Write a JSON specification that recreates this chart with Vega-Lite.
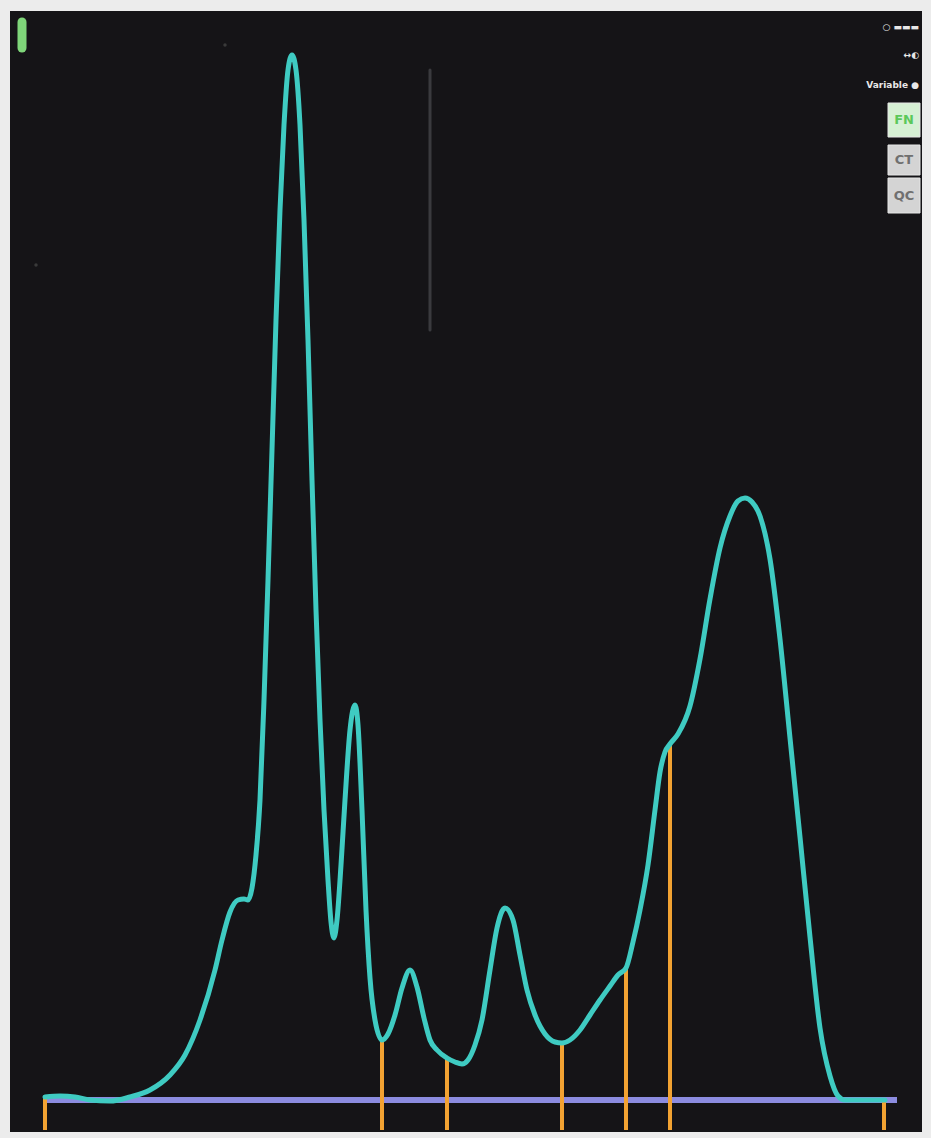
{
  "$schema": "https://vega.github.io/schema/vega-lite/v6.json",
  "autosize": {"type": "fit", "contains": "padding"},
  "width": 931,
  "height": 1138,
  "padding": {"left": 10, "top": 11, "right": 9, "bottom": 6},
  "background": "#ececec",
  "view": {"fill": "#151417", "stroke": null},
  "datasets": {
    "trace": [
      {"t": 45, "s": 3}, {"t": 60, "s": 4}, {"t": 75, "s": 3}, {"t": 90, "s": 0}, {"t": 110, "s": -1},
      {"t": 130, "s": 3}, {"t": 150, "s": 10}, {"t": 170, "s": 25}, {"t": 185, "s": 45}, {"t": 200, "s": 80},
      {"t": 215, "s": 130}, {"t": 222, "s": 160}, {"t": 230, "s": 188}, {"t": 238, "s": 200}, {"t": 244, "s": 201},
      {"t": 248, "s": 200}, {"t": 252, "s": 212}, {"t": 256, "s": 245}, {"t": 260, "s": 300}, {"t": 264, "s": 400},
      {"t": 268, "s": 520}, {"t": 272, "s": 650}, {"t": 276, "s": 780}, {"t": 280, "s": 890}, {"t": 284, "s": 975},
      {"t": 288, "s": 1030}, {"t": 292, "s": 1045}, {"t": 296, "s": 1030}, {"t": 300, "s": 975}, {"t": 304, "s": 880},
      {"t": 308, "s": 760}, {"t": 312, "s": 620}, {"t": 316, "s": 490}, {"t": 320, "s": 380}, {"t": 324, "s": 290},
      {"t": 328, "s": 220}, {"t": 331, "s": 178}, {"t": 334, "s": 162}, {"t": 337, "s": 180}, {"t": 341, "s": 235},
      {"t": 345, "s": 300}, {"t": 350, "s": 370}, {"t": 355, "s": 395}, {"t": 358, "s": 375}, {"t": 362, "s": 290},
      {"t": 366, "s": 190}, {"t": 370, "s": 122}, {"t": 375, "s": 80}, {"t": 382, "s": 60}, {"t": 388, "s": 66},
      {"t": 395, "s": 85}, {"t": 402, "s": 112}, {"t": 410, "s": 130}, {"t": 417, "s": 113}, {"t": 424, "s": 82},
      {"t": 430, "s": 60}, {"t": 437, "s": 50}, {"t": 447, "s": 42}, {"t": 455, "s": 38}, {"t": 462, "s": 36},
      {"t": 468, "s": 40}, {"t": 475, "s": 55}, {"t": 482, "s": 80}, {"t": 490, "s": 130}, {"t": 497, "s": 172},
      {"t": 505, "s": 192}, {"t": 513, "s": 180}, {"t": 520, "s": 145}, {"t": 527, "s": 110}, {"t": 535, "s": 85},
      {"t": 545, "s": 66}, {"t": 555, "s": 58}, {"t": 562, "s": 57}, {"t": 570, "s": 60}, {"t": 580, "s": 70},
      {"t": 590, "s": 85}, {"t": 600, "s": 100}, {"t": 610, "s": 114}, {"t": 618, "s": 125}, {"t": 626, "s": 132},
      {"t": 633, "s": 158}, {"t": 640, "s": 190}, {"t": 648, "s": 235}, {"t": 655, "s": 290}, {"t": 660, "s": 328},
      {"t": 665, "s": 348}, {"t": 670, "s": 356}, {"t": 678, "s": 366}, {"t": 690, "s": 394}, {"t": 700, "s": 441},
      {"t": 710, "s": 501}, {"t": 720, "s": 552}, {"t": 730, "s": 584}, {"t": 738, "s": 599}, {"t": 745, "s": 602},
      {"t": 752, "s": 598}, {"t": 760, "s": 584}, {"t": 770, "s": 541}, {"t": 780, "s": 461}, {"t": 790, "s": 362},
      {"t": 800, "s": 263}, {"t": 810, "s": 163}, {"t": 820, "s": 72}, {"t": 830, "s": 24}, {"t": 838, "s": 4},
      {"t": 845, "s": 0}, {"t": 870, "s": 0}, {"t": 885, "s": 0}
    ],
    "cuts": [
      {"t": 45, "s": 3}, {"t": 382, "s": 60}, {"t": 447, "s": 42}, {"t": 562, "s": 57},
      {"t": 626, "s": 132}, {"t": 670, "s": 356}, {"t": 884, "s": 0}
    ],
    "buttons": [
      {"label": "FN", "x1": 888, "x2": 920, "y1": 997, "y2": 963, "fill": "#d6f0d4", "ink": "#5cc85a"},
      {"label": "CT", "x1": 888, "x2": 920, "y1": 955, "y2": 925, "fill": "#d4d4d4", "ink": "#707070"},
      {"label": "QC", "x1": 888, "x2": 920, "y1": 922, "y2": 887, "fill": "#d4d4d4", "ink": "#707070"}
    ],
    "controls": [
      {"label": "○ ▬▬▬", "t": 919, "s": 1073},
      {"label": "↔◐", "t": 919, "s": 1045},
      {"label": "Variable ●", "t": 919, "s": 1015}
    ]
  },
  "encoding": {
    "x": {"type": "quantitative", "scale": {"domain": [10, 922], "nice": false, "zero": false}, "axis": null},
    "y": {"type": "quantitative", "scale": {"domain": [-32, 1089], "nice": false, "zero": false}, "axis": null}
  },
  "layer": [
    {
      "data": {"values": [{"t": 430, "s": 1030, "s2": 770}]},
      "mark": {"type": "rule", "color": "#3a3a3e", "strokeWidth": 3, "strokeCap": "round"},
      "encoding": {"x": {"field": "t"}, "y": {"field": "s"}, "y2": {"field": "s2"}}
    },
    {
      "data": {"values": [{"t": 22, "s": 1078, "s2": 1052}]},
      "mark": {"type": "rule", "color": "#7fd67a", "strokeWidth": 9, "strokeCap": "round"},
      "encoding": {"x": {"field": "t"}, "y": {"field": "s"}, "y2": {"field": "s2"}}
    },
    {
      "data": {"values": [{"t": 36, "s": 835}, {"t": 225, "s": 1055}]},
      "mark": {"type": "point", "filled": true, "color": "#4a4a4a", "size": 12},
      "encoding": {"x": {"field": "t"}, "y": {"field": "s"}}
    },
    {
      "data": {"values": [{"t": 45, "t2": 897, "s": 0}]},
      "mark": {"type": "rule", "color": "#8c8ce0", "strokeWidth": 6},
      "encoding": {"x": {"field": "t"}, "x2": {"field": "t2"}, "y": {"field": "s"}}
    },
    {
      "data": {"name": "cuts"},
      "transform": [{"calculate": "-30", "as": "floor"}],
      "mark": {"type": "rule", "color": "#f2a232", "strokeWidth": 4},
      "encoding": {"x": {"field": "t"}, "y": {"field": "s"}, "y2": {"field": "floor"}}
    },
    {
      "data": {"name": "trace"},
      "mark": {"type": "line", "color": "#3fcbc2", "strokeWidth": 5, "interpolate": "monotone", "strokeJoin": "round", "strokeCap": "round"},
      "encoding": {"x": {"field": "t"}, "y": {"field": "s"}}
    },
    {
      "data": {"name": "buttons"},
      "mark": {"type": "rect", "stroke": "#e6e6e6", "strokeWidth": 1},
      "encoding": {
        "x": {"field": "x1"}, "x2": {"field": "x2"},
        "y": {"field": "y1"}, "y2": {"field": "y2"},
        "fill": {"field": "fill", "type": "nominal", "scale": null}
      }
    },
    {
      "data": {"name": "buttons"},
      "transform": [{"calculate": "(datum.x1 + datum.x2) / 2", "as": "cx"}, {"calculate": "(datum.y1 + datum.y2) / 2", "as": "cy"}],
      "mark": {"type": "text", "font": "DejaVu Sans", "fontSize": 13, "fontWeight": "bold", "align": "center", "baseline": "middle"},
      "encoding": {
        "x": {"field": "cx"}, "y": {"field": "cy"},
        "text": {"field": "label"},
        "color": {"field": "ink", "type": "nominal", "scale": null}
      }
    },
    {
      "data": {"name": "controls"},
      "mark": {"type": "text", "font": "DejaVu Sans", "fontSize": 9, "fontWeight": "bold", "align": "right", "baseline": "middle", "color": "#e8e8e8"},
      "encoding": {"x": {"field": "t"}, "y": {"field": "s"}, "text": {"field": "label"}}
    }
  ]
}
